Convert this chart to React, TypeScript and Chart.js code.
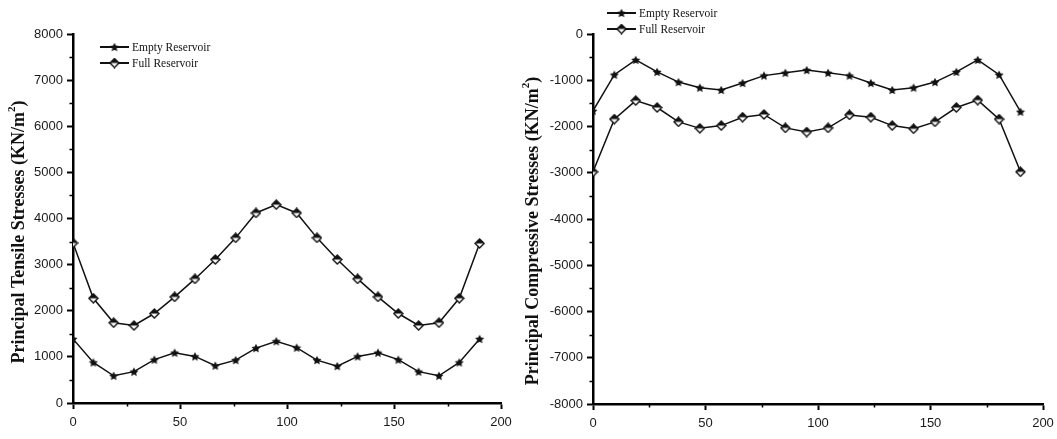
import { useEffect, useRef } from "react";
import { Chart, registerables } from "chart.js";

Chart.register(...registerables);

// Distance along the section (m)
const distance = [0, 9.5, 19, 28.5, 38, 47.5, 57, 66.5, 76, 85.5, 95, 104.5, 114, 123.5, 133, 142.5, 152, 161.5, 171, 180.5, 190];

// Principal tensile stresses (KN/m²)
const tensileEmpty = [1390, 880, 590, 680, 940, 1090, 1010, 810, 930, 1190, 1340, 1200, 930, 800, 1010, 1090, 940, 680, 590, 880, 1390];
const tensileFull = [3470, 2270, 1740, 1680, 1940, 2300, 2690, 3110, 3580, 4120, 4300, 4120, 3580, 3110, 2690, 2300, 1940, 1680, 1740, 2270, 3460];

// Principal compressive stresses (KN/m²)
const compressiveEmpty = [-1660, -880, -560, -820, -1040, -1160, -1210, -1060, -900, -840, -780, -840, -900, -1060, -1210, -1160, -1040, -820, -560, -880, -1680];
const compressiveFull = [-2980, -1840, -1440, -1590, -1900, -2040, -1980, -1800, -1740, -2030, -2120, -2030, -1750, -1800, -1980, -2050, -1900, -1590, -1430, -1840, -2980];

const seriesNames = ["Empty Reservoir", "Full Reservoir"];
const xTickValues = [0, 50, 100, 150, 200];

const INK = "#111";

function starMarker(size: number): HTMLCanvasElement {
  const c = document.createElement("canvas");
  c.width = size;
  c.height = size;
  const g = c.getContext("2d")!;
  const cx = size / 2;
  const cy = size / 2 + 0.4;
  const R = size / 2 - 0.3;
  const r = R * 0.5;
  g.beginPath();
  for (let i = 0; i < 10; i++) {
    const a = -Math.PI / 2 + (i * Math.PI) / 5;
    const rad = i % 2 ? r : R;
    g.lineTo(cx + rad * Math.cos(a), cy + rad * Math.sin(a));
  }
  g.closePath();
  g.fillStyle = INK;
  g.fill();
  return c;
}

function diamondMarker(size: number): HTMLCanvasElement {
  const c = document.createElement("canvas");
  c.width = size;
  c.height = size;
  const g = c.getContext("2d")!;
  const h = size / 2;
  g.beginPath();
  g.moveTo(h, 1);
  g.lineTo(size - 1, h);
  g.lineTo(h, size - 1);
  g.lineTo(1, h);
  g.closePath();
  g.fillStyle = "#fff";
  g.fill();
  g.lineWidth = 1.4;
  g.strokeStyle = INK;
  g.stroke();
  g.beginPath();
  g.moveTo(h, 1);
  g.lineTo(size - 1, h);
  g.lineTo(1, h);
  g.closePath();
  g.fillStyle = INK;
  g.fill();
  return c;
}

type DecoOpts = {
  title: string;
  titleX: number;
  titleY: number;
  legendX: number;
  legendY: number;
  markers: HTMLCanvasElement[];
};

// Minor ticks, rotated axis title with superscript, and line+marker legend
const decorations = {
  id: "decorations",
  afterDraw(chart: any, _args: any, opts: DecoOpts) {
    const { ctx, chartArea } = chart;
    const x = chart.scales.x;
    const y = chart.scales.y;
    ctx.save();
    ctx.strokeStyle = "#000";
    ctx.lineWidth = 1.5;
    ctx.beginPath();
    const yStep = 1000;
    for (let v = y.min + yStep / 2; v < y.max; v += yStep) {
      const py = Math.round(y.getPixelForValue(v)) + 0.5;
      ctx.moveTo(chartArea.left - 3.5, py);
      ctx.lineTo(chartArea.left, py);
    }
    const xStep = 50;
    for (let v = x.min + xStep / 2; v < x.max; v += xStep) {
      const px = Math.round(x.getPixelForValue(v)) + 0.5;
      ctx.moveTo(px, chartArea.bottom);
      ctx.lineTo(px, chartArea.bottom + 3.5);
    }
    ctx.stroke();

    // axis title
    ctx.save();
    ctx.translate(opts.titleX, opts.titleY);
    ctx.rotate(-Math.PI / 2);
    ctx.fillStyle = INK;
    ctx.textBaseline = "middle";
    const main = opts.title + " (KN/m";
    const big = 'bold 18px "Liberation Serif"';
    const small = 'bold 11px "Liberation Serif"';
    ctx.font = big;
    const wMain = ctx.measureText(main).width;
    const wClose = ctx.measureText(")").width;
    ctx.font = small;
    const wSup = ctx.measureText("2").width;
    const total = wMain + wSup + wClose;
    let cx = -total / 2;
    ctx.textAlign = "left";
    ctx.font = big;
    ctx.fillText(main, cx, 0);
    cx += wMain;
    ctx.font = small;
    ctx.fillText("2", cx, -7);
    cx += wSup;
    ctx.font = big;
    ctx.fillText(")", cx, 0);
    ctx.restore();

    // legend
    ctx.font = '11.5px "Liberation Serif"';
    ctx.textAlign = "left";
    ctx.textBaseline = "middle";
    ctx.fillStyle = INK;
    chart.data.datasets.forEach((ds: any, i: number) => {
      const ly = opts.legendY + i * 16;
      ctx.beginPath();
      ctx.lineWidth = 2;
      ctx.strokeStyle = INK;
      ctx.moveTo(opts.legendX, ly);
      ctx.lineTo(opts.legendX + 29, ly);
      ctx.stroke();
      const m = opts.markers[i];
      ctx.drawImage(m, opts.legendX + 14.5 - m.width / 2, ly - m.height / 2);
      ctx.fillText(ds.label, opts.legendX + 32, ly + 0.5);
    });
    ctx.restore();
  },
};

type PanelProps = {
  left: number;
  width: number;
  empty: number[];
  full: number[];
  yMin: number;
  yMax: number;
  yAxisWidth: number;
  xAxisHeight: number;
  padRight: number;
  title: string;
  titleY: number;
  legendX: number;
  legendY: number;
};

const tickFont = { family: '"Liberation Sans"', size: 13 };

function Panel(p: PanelProps) {
  const ref = useRef<HTMLCanvasElement>(null);
  useEffect(() => {
    const star = starMarker(10);
    const diamond = diamondMarker(11);
    const line = { borderColor: INK, borderWidth: 1.5, tension: 0, fill: false };
    const chart = new Chart(ref.current!, {
      type: "line",
      data: {
        datasets: [
          {
            label: seriesNames[0],
            data: distance.map((d, i) => ({ x: d, y: p.empty[i] })),
            pointStyle: star,
            ...line,
          },
          {
            label: seriesNames[1],
            data: distance.map((d, i) => ({ x: d, y: p.full[i] })),
            pointStyle: diamond,
            ...line,
          },
        ],
      },
      options: {
        animation: false,
        responsive: false,
        maintainAspectRatio: false,
        layout: { padding: { top: 34, right: p.padRight, bottom: 0, left: 0 } },
        plugins: {
          legend: { display: false },
          tooltip: { enabled: false },
          decorations: {
            title: p.title,
            titleX: 19,
            titleY: p.titleY,
            legendX: p.legendX,
            legendY: p.legendY,
            markers: [star, diamond],
          },
        } as any,
        scales: {
          x: {
            type: "linear",
            min: 0,
            max: 200,
            afterBuildTicks: (s: any) => {
              s.ticks = xTickValues.map((v) => ({ value: v }));
            },
            afterFit: (s: any) => {
              s.height = p.xAxisHeight;
              s.paddingLeft = 0;
              s.paddingRight = 0;
            },
            grid: { drawOnChartArea: false, tickLength: 6, tickWidth: 2, tickColor: "#000" },
            border: { width: 2.5, color: "#000" },
            ticks: {
              padding: 6,
              color: "#1a1a1a",
              font: tickFont,
              maxRotation: 0,
              callback: (v: any) => String(v),
            },
          },
          y: {
            type: "linear",
            min: p.yMin,
            max: p.yMax,
            ticks: {
              stepSize: 1000,
              padding: 4,
              color: "#1a1a1a",
              font: tickFont,
              callback: (v: any) => String(v),
            },
            afterFit: (s: any) => {
              s.width = p.yAxisWidth;
              s.paddingTop = 0;
              s.paddingBottom = 0;
            },
            grid: { drawOnChartArea: false, tickLength: 6, tickWidth: 2, tickColor: "#000" },
            border: { width: 2.5, color: "#000" },
          },
        },
        elements: { point: { radius: 5 } },
      },
      plugins: [decorations],
    });
    return () => chart.destroy();
  }, []);
  return (
    <canvas
      ref={ref}
      width={p.width}
      height={439}
      style={{ position: "absolute", left: p.left, top: 0, width: p.width, height: 439 }}
    />
  );
}

export default function App() {
  return (
    <div style={{ position: "fixed", left: 0, top: 0, width: 1057, height: 439, background: "#fff", overflow: "hidden" }}>
      <Panel
        left={0}
        width={514}
        empty={tensileEmpty}
        full={tensileFull}
        yMin={0}
        yMax={8000}
        yAxisWidth={73}
        xAxisHeight={36}
        padRight={13}
        title="Principal Tensile Stresses"
        titleY={232}
        legendX={100}
        legendY={47}
      />
      <Panel
        left={514}
        width={543}
        empty={compressiveEmpty}
        full={compressiveFull}
        yMin={-8000}
        yMax={0}
        yAxisWidth={79}
        xAxisHeight={35}
        padRight={14}
        title="Principal Compressive Stresses"
        titleY={231}
        legendX={93}
        legendY={13}
      />
    </div>
  );
}
